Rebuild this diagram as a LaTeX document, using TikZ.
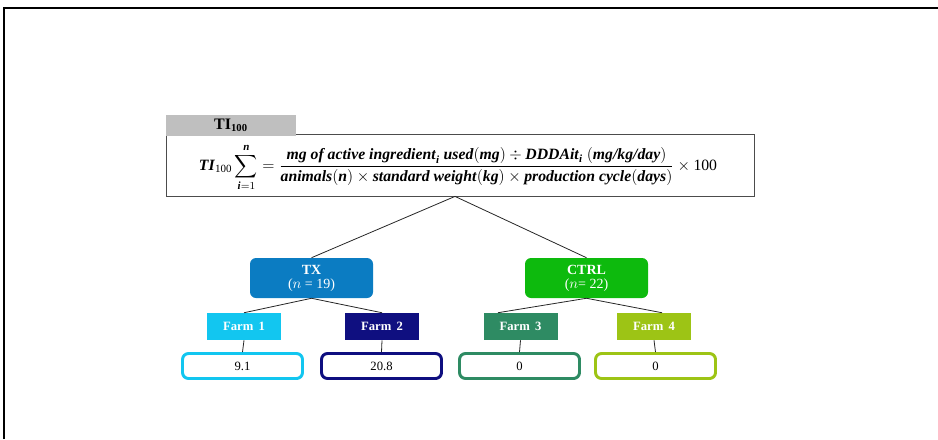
\documentclass[tikz,border=0pt]{standalone}
\usepackage{amsmath}
\usepackage{fontspec}
\setmainfont{Liberation Serif}
\definecolor{txc}{HTML}{0B7CC2}
\definecolor{ctrlc}{HTML}{0DBA0D}
\definecolor{fa}{HTML}{12C6F0}
\definecolor{fb}{HTML}{0F0F80}
\definecolor{fc}{HTML}{2E8B63}
\definecolor{fd}{HTML}{9DC415}
\definecolor{tabgray}{HTML}{BFBFBF}
\newcommand{\bi}[1]{\textbf{\textit{#1}}}
\begin{document}
\begin{tikzpicture}[x=0.75pt,y=-0.75pt,
  grp/.style={rounded corners=4.5pt,minimum width=92.25pt,minimum height=30pt,inner sep=0pt,
    text=white,align=center,font=\fontsize{10.5}{11.5}\selectfont},
  farmbox/.style={minimum width=55.5pt,minimum height=20.25pt,inner sep=0pt,
    text=white,font=\fontsize{9.5}{10}\selectfont\bfseries},
  valbox/.style={draw,line width=2.2pt,rounded corners=4.5pt,minimum width=90pt,minimum height=18.75pt,
    inner sep=0pt,fill=white,font=\fontsize{9.5}{10}\selectfont},
  conn/.style={draw=black!85,line width=0.6pt}]
\useasboundingbox (0,0) rectangle (938,439);
\draw[line width=1.6pt] (4,439) -- (4,8) -- (938,8);
% formula box
\node[draw=black!70,line width=0.6pt,minimum width=441pt,minimum height=46.5pt,inner sep=0pt] (fbox) at (460,165) {};
\node[fill=tabgray,minimum width=97.5pt,minimum height=15.75pt,inner sep=0pt,font=\fontsize{12}{13}\selectfont] (tab) at (231,125.5) {\textbf{TI}$_{\textbf{100}}$};
\node[inner sep=0pt,font=\fontsize{11.8}{13}\selectfont] (formula) at (458,167.5)
 {$\bi{TI}_{\text{100}}\displaystyle\sum_{\bi{i}=1}^{\bi{n}} = \frac{\bi{mg of active ingredient}_{\bi{i}}\ \bi{used} (\bi{mg}) \div \bi{DDDAit}_{\bi{i}}\ (\bi{mg/kg/day})}{\bi{animals} (\bi{n}) \times \bi{standard weight} (\bi{kg}) \times \bi{production cycle} (\bi{days})} \times \text{100}$};
% groups
\node[grp,fill=txc] (tx) at (311.5,278) {\textbf{TX}\\[-1pt]($n$ = 19)};
\node[grp,fill=ctrlc] (ctrl) at (586.5,278) {\textbf{CTRL}\\[-1pt]($n$= 22)};
% farms
\node[farmbox,fill=fa] (f1) at (244,326.5) {Farm\, 1};
\node[farmbox,fill=fb] (f2) at (382,326.5) {Farm\, 2};
\node[farmbox,fill=fc] (f3) at (520.5,326.5) {Farm\, 3};
\node[farmbox,fill=fd] (f4) at (654,326.5) {Farm\, 4};
% values
\node[valbox,draw=fa] (v1) at (242.5,366) {9.1};
\node[valbox,draw=fb] (v2) at (381.5,366) {20.8};
\node[valbox,draw=fc] (v3) at (519.5,366) {0};
\node[valbox,draw=fd] (v4) at (655.5,366) {0};
% connectors
\draw[conn] (tx.north) -- ([xshift=-3.75pt]fbox.south) -- (ctrl.north);
\draw[conn] (f1.north) -- (tx.south) -- (f2.north);
\draw[conn] ([xshift=-17pt]f3.north) -- (ctrl.south) -- ([xshift=6pt]f4.north);
\draw[conn] (f1.south) -- (v1.north);
\draw[conn] (f2.south) -- (v2.north);
\draw[conn] (f3.south) -- (v3.north);
\draw[conn] (f4.south) -- (v4.north);
\end{tikzpicture}
\end{document}
